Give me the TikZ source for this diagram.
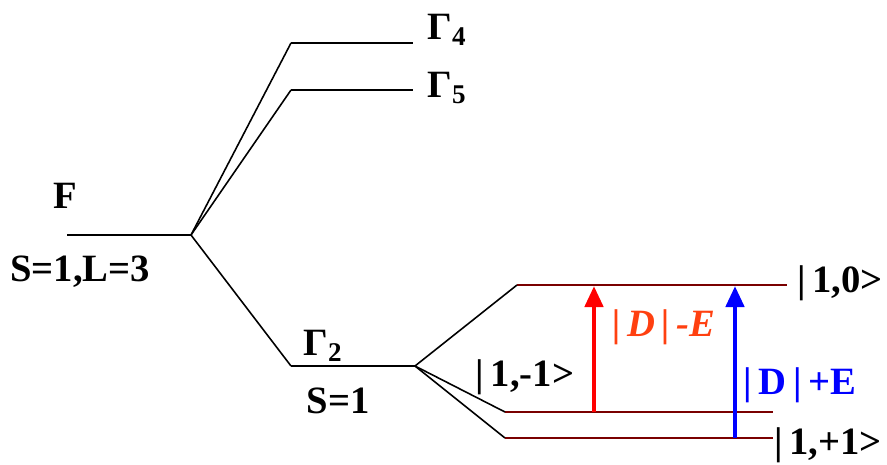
\documentclass[tikz,border=0pt]{standalone}
\usepackage{fontspec}
\setmainfont{Liberation Serif}
\usetikzlibrary{arrows.meta}
\definecolor{LevelRed}{HTML}{7A0000}
\definecolor{SplitRed}{HTML}{FF0000}
\definecolor{SplitOrange}{HTML}{FF4010}
\definecolor{SplitBlue}{HTML}{0000FF}
\tikzset{
  level/.style={black,line width=1.3pt},
  sublevel/.style={LevelRed,line width=1.6pt},
  link/.style={black,line width=0.9pt},
  lbl/.style={font=\fontsize{22}{26}\selectfont\bfseries,inner sep=0pt},
  trans/.style={-{Triangle[length=4.2mm,width=3.6mm]},line width=2.6pt}
}
\begin{document}
\begin{tikzpicture}[x=0.02cm,y=-0.02cm]
  \useasboundingbox (0,0) rectangle (887,464);
  % free ion term
  \coordinate (fL) at (67,235);
  \coordinate (fR) at (191,235);
  \draw[level] (fL) -- (fR);
  \node[lbl] (fterm) at (65,196) {F};
  \node[lbl] (fspin) at (80,272) {S=1,L=3};

  % orbital levels
  \coordinate (g4L) at (291,43);
  \coordinate (g4R) at (413,43);
  \coordinate (g5L) at (291,90);
  \coordinate (g5R) at (413,90);
  \coordinate (g2L) at (291,366);
  \coordinate (g2R) at (415,366);
  \draw[level] (g4L) -- (g4R);
  \draw[level] (g5L) -- (g5R);
  \draw[level] (g2L) -- (g2R);
  \draw[link] (fR) -- (g4L);
  \draw[link] (fR) -- (g5L);
  \draw[link] (fR) -- (g2L);
  \node[lbl] (g4) at (447,30) {Γ\textsubscript{4}};
  \node[lbl] (g5) at (447,88) {Γ\textsubscript{5}};
  \node[lbl] (g2) at (323,346) {Γ\textsubscript{2}};
  \node[lbl] (g2spin) at (338,401) {S=1};

  % zero-field split sublevels
  \coordinate (m0L) at (517,285);
  \coordinate (m0R) at (787,285);
  \coordinate (mmL) at (505,412);
  \coordinate (mmR) at (773,412);
  \coordinate (mpL) at (505,438);
  \coordinate (mpR) at (773,438);
  \draw[sublevel] (m0L) -- (m0R);
  \draw[sublevel] (mmL) -- (mmR);
  \draw[sublevel] (mpL) -- (mpR);
  \draw[link] (g2R) -- (m0L);
  \draw[link] (g2R) -- (mmL);
  \draw[link] (g2R) -- (mpL);
  \node[lbl] (k0) at (840,283) {|\,1,0>};
  \node[lbl] (km) at (525,377) {|\,1,-1>};
  \node[lbl] (kp) at (828,445) {|\,1,+1>};

  % transitions
  \coordinate (rA) at (594,412);
  \coordinate (rB) at (594,286);
  \coordinate (bA) at (735,438);
  \coordinate (bB) at (735,286);
  \draw[trans,SplitRed] (rA) -- (rB);
  \draw[trans,SplitBlue] (bA) -- (bB);
  \node[lbl,text=SplitOrange,font=\fontsize{22}{26}\selectfont\bfseries\itshape] (dmE) at (664,327) {|\,D\,|\,-E};
  \node[lbl,text=SplitBlue] (dpE) at (800,385) {|\,D\,|\,+E};
\end{tikzpicture}
\end{document}
